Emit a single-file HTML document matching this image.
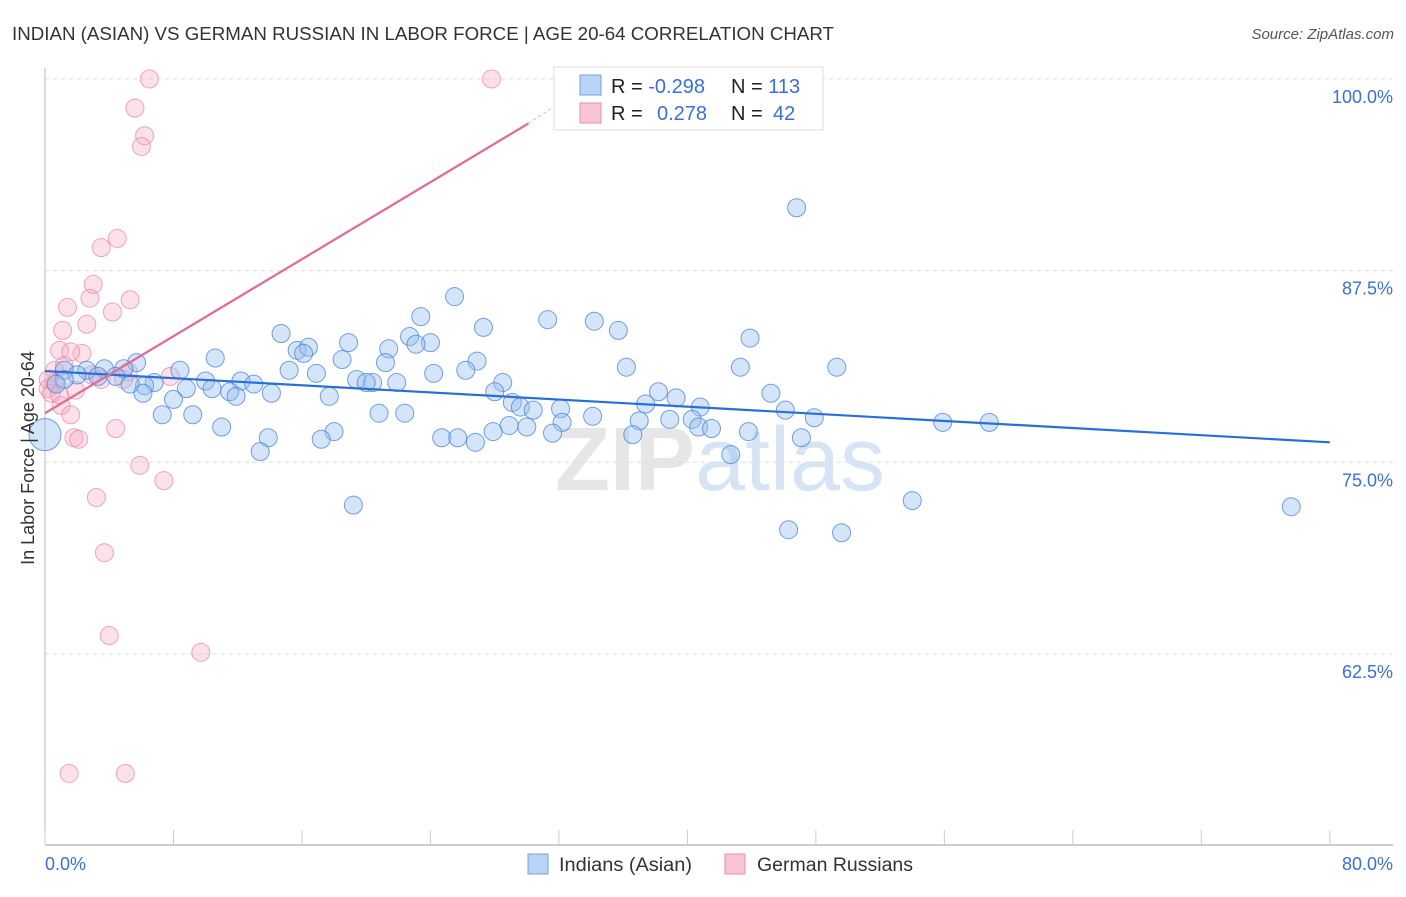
<!DOCTYPE html>
<html><head><meta charset="utf-8"><style>
body{margin:0;background:#fff;font-family:"Liberation Sans",sans-serif}
svg text{font-family:"Liberation Sans",sans-serif}
</style></head><body>
<svg id="chart" width="1406" height="892">
<text x="12" y="40" font-size="18" fill="#333" textLength="822" lengthAdjust="spacingAndGlyphs">INDIAN (ASIAN) VS GERMAN RUSSIAN IN LABOR FORCE | AGE 20-64 CORRELATION CHART</text>
<text x="1394" y="39" font-size="15" fill="#555" font-style="italic" text-anchor="end">Source: ZipAtlas.com</text>
<text x="720" y="490" font-size="90" fill="#e6e6e6" text-anchor="middle" font-weight="bold">ZIP<tspan fill="#d6e4f6" font-weight="normal">atlas</tspan></text>
<g id="grid"></g><g id="axes"></g><g id="marks"></g>
<text transform="translate(34,458) rotate(-90)" font-size="18" fill="#333" text-anchor="middle">In Labor Force | Age 20-64</text>
<text x="45" y="870" font-size="18" fill="#3a6fd8">0.0%</text>
<text x="1393" y="870" font-size="18" fill="#3a6fd8" text-anchor="end">80.0%</text>
<g>
<rect x="528" y="854" width="20" height="20" fill="#b8d3f5" stroke="#6f9fe0"/>
<text x="559" y="871" font-size="19" fill="#333" textLength="133" lengthAdjust="spacingAndGlyphs">Indians (Asian)</text>
<rect x="725" y="854" width="20" height="20" fill="#f9c4d3" stroke="#e890ab"/>
<text x="757" y="871" font-size="19" fill="#333" textLength="156" lengthAdjust="spacingAndGlyphs">German Russians</text>
</g>
<g>
<rect x="554" y="67" width="269" height="63" fill="#fff" stroke="#ddd"/>
<rect x="580" y="75" width="21" height="20" fill="#b8d3f5" stroke="#6f9fe0"/>
<rect x="580" y="103" width="21" height="20" fill="#f9c4d3" stroke="#e890ab"/>
<text x="611" y="93" font-size="20" fill="#222">R = <tspan fill="#3a6fd8">-0.298</tspan></text>
<text x="731" y="93" font-size="20" fill="#222">N = <tspan fill="#3a6fd8">113</tspan></text>
<text x="611" y="120" font-size="20" fill="#222">R = <tspan fill="#3a6fd8" x="657">0.278</tspan></text>
<text x="731" y="120" font-size="20" fill="#222">N = <tspan fill="#3a6fd8" x="773">42</tspan></text>
</g>
</svg>
<script>
const yTicks=[100,87.5,75,62.5];
const yTickLabels=["100.0%","87.5%","75.0%","62.5%"];
const xTicks=[0,8,16,24,32,40,48,56,64,72,80];
const blueX=[0,46.8,25.5,31.3,34.2,23.4,27.3,14.7,35.7,43.9,22.7,18.9,24.0,23.1,15.7,16.4,16.1,21.4,10.6,18.5,26.9,21.2,5.7,36.2,43.3,49.3,26.2,8.4,15.2,16.9,24.2,4.9,3.7,2.6,1.2,2.0,3.3,4.4,1.2,0.7,6.8,6.2,5.3,10.0,12.2,13.0,19.4,20.4,21.9,20.0,28.5,10.4,8.8,11.5,14.1,6.1,8.0,11.9,17.7,28.0,38.2,45.2,39.3,29.1,29.6,30.4,32.1,37.4,40.8,46.1,47.9,7.3,9.2,20.8,22.4,34.1,32.2,37.0,38.9,40.3,40.7,41.5,30.0,28.9,55.9,58.8,11.0,18.0,17.2,13.9,24.7,25.7,26.8,27.9,31.6,36.6,43.8,47.1,13.4,42.7,19.2,54.0,77.6,46.3,49.6];
const blueY=[76.8,91.6,85.8,84.3,84.2,84.5,83.8,83.4,83.6,83.1,83.2,82.8,82.8,82.7,82.3,82.5,82.1,82.4,81.8,81.7,81.6,81.5,81.5,81.2,81.2,81.2,81.0,81.0,81.0,80.8,80.8,81.1,81.1,81.0,81.0,80.7,80.6,80.6,80.4,80.1,80.2,80.0,80.1,80.3,80.3,80.1,80.4,80.2,80.2,80.2,80.2,79.8,79.8,79.6,79.5,79.5,79.1,79.3,79.3,79.6,79.6,79.5,79.2,78.9,78.6,78.4,78.5,78.8,78.6,78.4,77.9,78.1,78.1,78.2,78.2,78.0,77.6,77.7,77.8,77.8,77.3,77.2,77.3,77.4,77.6,77.6,77.3,77.0,76.5,76.6,76.6,76.6,76.3,77.0,76.9,76.8,77.0,76.6,75.7,75.5,72.2,72.5,72.1,70.6,70.4];
const pinkX=[6.5,27.8,5.6,6.2,6.0,4.5,3.5,3.0,2.8,5.3,1.4,4.2,2.6,1.1,2.3,0.9,1.6,1.2,0.6,2.9,3.5,4.9,0.6,0.2,0.4,1.0,1.6,1.8,2.1,4.4,5.9,7.4,3.2,3.7,4.0,9.7,1.5,5.0,7.8,1.9,0.9,5.2,0.2];
const pinkY=[100,100,98.1,96.3,95.6,89.6,89.0,86.6,85.7,85.6,85.1,84.8,84.0,83.6,82.1,82.3,82.2,81.3,81.0,80.7,80.4,80.4,80.2,79.8,79.5,78.7,78.1,76.6,76.5,77.2,74.8,73.8,72.7,69.1,63.7,62.6,54.7,54.7,80.6,79.7,79.4,80.9,80.4];
const blueTrendX=[0,80], blueTrendY=[80.95,76.3];
const pinkTrendX=[0,30.1,33.3], pinkTrendY=[78.2,97.1,99.3];

const X=v=>45+v*16.06, Y=v=>79+(100-v)*15.33;
const NS="http://www.w3.org/2000/svg";
function mk(t,a,p){const e=document.createElementNS(NS,t);for(const k in a)e.setAttribute(k,a[k]);p.appendChild(e);return e;}
const grid=document.getElementById('grid'),axes=document.getElementById('axes'),marks=document.getElementById('marks');
yTicks.forEach((t,i)=>{
 const l=mk('line',{x1:45,x2:1393,y1:Y(t),y2:Y(t),stroke:'#ddd','stroke-dasharray':'4,4'},grid);
 
 
 const tx=mk('text',{x:1393,y:Y(t)+24,'font-size':18,fill:'#3a6fd8','text-anchor':'end'},grid);
 tx.textContent=yTickLabels[i];
 
 
});
const ya=mk('line',{x1:45,x2:45,y1:68,y2:845,stroke:'#bbb'},axes);


const xa=mk('line',{x1:45,x2:1393,y1:845,y2:845,stroke:'#bbb','stroke-width':1.5},axes);


xTicks.forEach(t=>{
 const l=mk('line',{x1:X(t),x2:X(t),y1:830,y2:845,stroke:'#ccc'},axes);
 
 
});
pinkX.forEach((x,i)=>{
 const c=mk('circle',{cx:X(x),cy:Y(pinkY[i]),r:9,fill:'rgba(245,170,195,0.35)',stroke:'rgba(232,130,165,0.7)','stroke-width':1},marks);
 
 
});
blueX.forEach((x,i)=>{
 const c=mk('circle',{cx:X(x),cy:Y(blueY[i]),r:i===0?16:9,fill:'rgba(150,190,240,0.4)',stroke:'rgba(70,130,215,0.75)','stroke-width':1},marks);
 
 
});
const bt=mk('line',{x1:X(blueTrendX[0]),y1:Y(blueTrendY[0]),x2:X(blueTrendX[1]),y2:Y(blueTrendY[1]),stroke:'#2a6fd6','stroke-width':2.2},marks);


const pt=mk('line',{x1:X(pinkTrendX[0]),y1:Y(pinkTrendY[0]),x2:X(pinkTrendX[1]),y2:Y(pinkTrendY[1]),stroke:'#e46a93','stroke-width':2.2},marks);


const pd=mk('line',{x1:X(pinkTrendX[1]),y1:Y(pinkTrendY[1]),x2:X(pinkTrendX[2]),y2:Y(pinkTrendY[2]),stroke:'#eeaac0','stroke-width':1,'stroke-dasharray':'3,3'},marks);


</script>
</body></html>
